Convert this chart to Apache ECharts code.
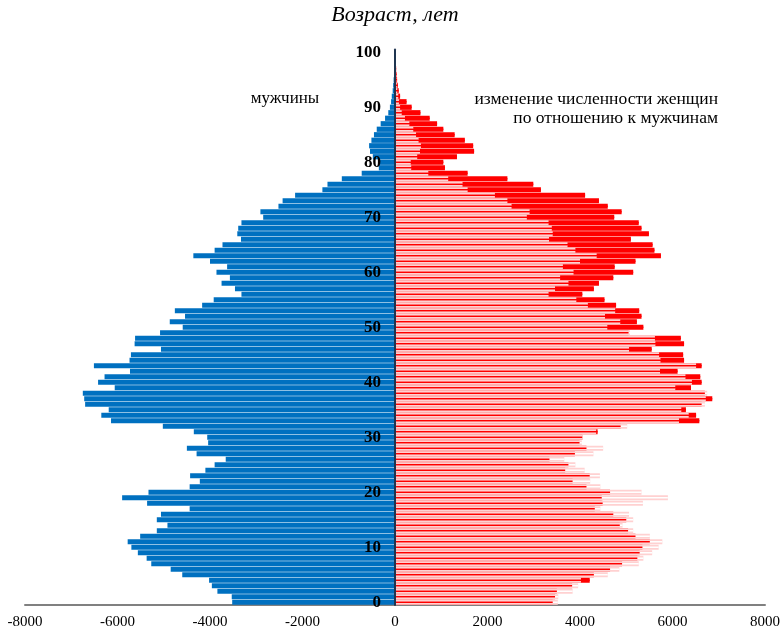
<!DOCTYPE html>
<html lang="ru">
<head>
    <meta charset="UTF-8">
    <title>Возрастная пирамида</title>
    <script src="https://cdn.jsdelivr.net/npm/echarts@6/dist/echarts.min.js"></script>
</head>
<style>
html,body{margin:0;padding:0;background-color:#ffffff}
#chartBox{width:784px;height:633px}
</style>
<body>
    <div id="chartBox"></div>
</body>
<script>
// возраст, лет (0..100)
const ages = ['0','1','2','3','4','5','6','7','8','9',
    '10','11','12','13','14','15','16','17','18','19',
    '20','21','22','23','24','25','26','27','28','29',
    '30','31','32','33','34','35','36','37','38','39',
    '40','41','42','43','44','45','46','47','48','49',
    '50','51','52','53','54','55','56','57','58','59',
    '60','61','62','63','64','65','66','67','68','69',
    '70','71','72','73','74','75','76','77','78','79',
    '80','81','82','83','84','85','86','87','88','89',
    '90','91','92','93','94','95','96','97','98','99',
    '100'];
// мужчины, человек
const men = [3520,3530,3840,3960,4020,4600,4850,5270,5370,5560,
    5700,5780,5510,5150,4920,5150,5060,4440,5360,5900,
    5330,4440,4220,4430,4100,3900,3660,4290,4500,4040,
    4060,4350,5020,6140,6350,6190,6700,6720,6750,6060,
    6420,6280,5730,6510,5740,5710,5060,5630,5620,5080,
    4590,4870,4540,4760,4170,3920,3320,3460,3750,3570,
    3860,3630,4000,4360,3900,3730,3330,3410,3390,3320,
    2850,2910,2520,2430,2160,1570,1460,1150,720,350,
    340,480,540,560,510,455,395,310,215,145,
    110,85,70,50,40,30,22,16,12,8,
    6];
// женщины, человек
const women = [3410,3460,3500,3830,4210,4300,4650,4910,5240,5290,
    5350,5510,5200,5040,4860,5000,4720,4320,4490,4470,
    4650,4140,3840,4210,3680,3750,3340,3890,4140,3990,
    4050,4380,4880,6580,6510,6290,6630,6860,6700,6400,
    6630,6600,6110,6630,6250,6230,5550,6250,6180,5050,
    5370,5230,5330,5280,4780,4530,4050,4300,4410,4720,
    5150,4750,5200,5750,5610,5570,5100,5490,5330,5270,
    4740,4900,4600,4410,4110,3155,2990,2430,1570,1080,
    1045,1340,1710,1690,1510,1290,1045,910,750,550,
    360,250,110,80,60,45,35,25,20,15,
    10];
// подписи осей
const xTicks = {min: -8000, max: 8000, step: 2000};
const ageLabelStep = 10;

const serif = '"Liberation Serif", "Times New Roman", serif';

let chartObj = echarts.init(document.getElementById('chartBox'));
let option = {
    animation: false,
    grid: {left: 25, right: 19, top: 49.5, bottom: 28, outerBoundsMode: 'none'},
    graphic: [
        {type: 'text', x: 395, y: 15, style: {text: 'Возраст, лет', font: 'italic 22px ' + serif, fill: '#000', align: 'center', verticalAlign: 'middle'}},
        {type: 'text', x: 285, y: 99, style: {text: 'мужчины', font: '17px ' + serif, fill: '#000', align: 'center', verticalAlign: 'middle'}},
        {type: 'text', x: 718, y: 99, style: {text: 'изменение численности женщин', font: '17.5px ' + serif, fill: '#000', align: 'right', verticalAlign: 'middle'}},
        {type: 'text', x: 718, y: 118, style: {text: 'по отношению к мужчинам', font: '17.5px ' + serif, fill: '#000', align: 'right', verticalAlign: 'middle'}}
    ],
    xAxis: {
        type: 'value',
        min: xTicks.min,
        max: xTicks.max,
        interval: xTicks.step,
        axisLine: {show: true, lineStyle: {color: '#808080', width: 2}},
        axisTick: {show: false},
        splitLine: {show: false},
        axisLabel: {
            formatter: function (v) { return String(v); },
            fontFamily: serif,
            fontSize: 15,
            color: '#000',
            margin: 10
        }
    },
    yAxis: [
        {
            type: 'category',
            data: ages,
            z: 5,
            position: 'left',
            offset: -370,   // ось возраста проходит через ноль
            axisLine: {onZero: false, lineStyle: {color: '#1f3550', width: 2}},
            axisTick: {show: false},
            axisLabel: {
                interval: function (i) { return i % ageLabelStep === 0; },
                fontFamily: serif,
                fontWeight: 'bold',
                fontSize: 17,
                color: '#000',
                margin: 14
            }
        },
        {type: 'category', data: ages, show: false}
    ],
    series: [
        {
            type: 'bar', name: 'мужчины',
            data: men.map(v => -v),
            barGap: '-100%', barCategoryGap: '5%',
            itemStyle: {color: '#0070C0'}
        },
        {
            type: 'bar', name: 'женщины',
            data: women,
            barGap: '-100%', barCategoryGap: '5%',
            itemStyle: {color: '#FF0000'}
        },
        {
            type: 'bar', name: 'мужчины (зеркально)',
            data: men,
            barGap: '-100%', barCategoryGap: '5%',
            itemStyle: {color: '#FFD1D1', borderColor: '#FFD1D1', borderWidth: 1.5}
        },
        {
            type: 'bar', yAxisIndex: 1,
            data: men,
            barGap: '-100%', barWidth: 1.6,
            itemStyle: {color: '#FFFFFF'}
        },
        {
            type: 'bar', yAxisIndex: 1,
            data: women,
            barGap: '-100%', barWidth: 1.6,
            itemStyle: {color: '#FF0000'}
        }
    ]
};
chartObj.setOption(option);
</script>
</html>
